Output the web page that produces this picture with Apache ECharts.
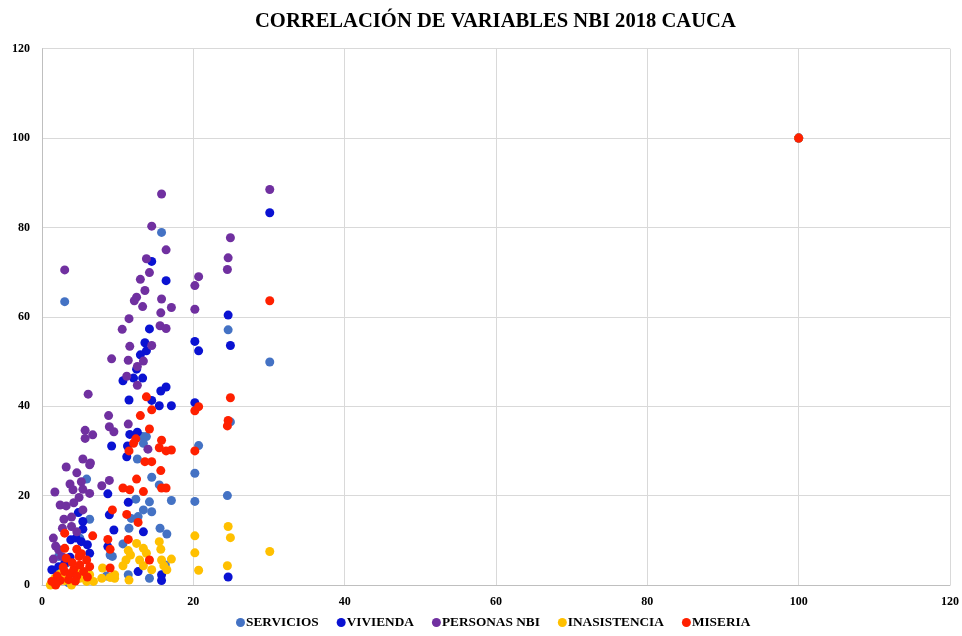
<!DOCTYPE html>
<html>
<head>
<meta charset="utf-8">
<script src="https://cdn.jsdelivr.net/npm/echarts@6/dist/echarts.min.js"></script>
<style>
html,body{margin:0;padding:0;background:#fff;}
#chart{width:962px;height:636px;}
</style>
</head>
<body>
<div id="chart"></div>
<script>
var titleText = 'CORRELACIÓN DE VARIABLES NBI 2018 CAUCA';
var seriesNames = ['SERVICIOS', 'VIVIENDA', 'PERSONAS NBI', 'INASISTENCIA', 'MISERIA'];
var seriesColors = ['#4472C4', '#0A12D2', '#7030A0', '#FFC000', '#FF2000'];
var axisTicks = [0, 20, 40, 60, 80, 100, 120];

var servicios = [
  [3.0,63.4],[15.8,78.9],[13.8,33.2],[13.3,33.2],[13.4,31.7],[12.6,28.2],[14.5,24.1],[15.5,22.4],
  [12.4,19.2],[14.2,18.6],[17.1,18.9],[13.4,16.8],[14.5,16.4],[12.7,15.3],[11.5,12.7],[15.6,12.7],
  [16.5,11.4],[10.7,9.2],[11.4,2.3],[14.2,1.5],[9.0,6.7],[5.9,23.7],[6.3,14.7],[2.2,6.4],[3.2,4.9],
  [2.6,3.4],[2.2,2.6],[1.5,1.0],[3.5,0.5],[4.5,1.2],[6.0,3.0],[8.5,2.0],[5.0,10.5],[16.3,4.5],
  [11.8,14.9],[9.3,6.4],
  [20.2,25.0],[20.2,18.7],[20.7,31.2],[24.6,57.1],[24.9,36.5],[24.5,20.0],[30.1,49.9],[100,100]
];
var vivienda = [
  [14.5,72.4],[16.4,68.1],[14.2,57.3],[13.6,54.2],[13.8,52.4],[13.0,51.5],[12.5,48.3],[12.1,46.3],
  [13.3,46.3],[10.7,45.7],[16.4,44.3],[15.7,43.4],[11.5,41.4],[14.5,41.3],[15.5,40.1],[17.1,40.1],
  [11.6,33.7],[12.6,34.2],[9.2,31.1],[11.3,31.1],[11.2,28.7],[11.4,18.5],[13.4,11.9],[9.5,12.3],
  [12.7,3.0],[15.8,2.3],[15.8,1.0],[8.7,20.4],[4.8,16.2],[5.4,14.2],[8.9,15.7],[5.4,12.5],
  [3.8,10.1],[4.5,10.5],[5.2,9.7],[6.0,9.0],[6.3,7.1],[8.7,8.6],[3.7,6.2],[3.0,4.9],[1.3,3.4],[2.2,4.1],
  [20.2,54.5],[20.2,40.8],[20.7,52.4],[24.6,60.4],[24.9,53.6],[24.6,1.8],[30.1,83.3],[100,100]
];
var personasNbi = [
  [15.8,87.5],[14.5,80.3],[16.4,75.0],[13.8,73.0],[3.0,70.5],[14.2,69.9],[13.0,68.4],[13.6,65.9],
  [12.5,64.4],[12.2,63.6],[15.8,64.0],[13.3,62.3],[17.1,62.1],[15.7,60.9],[11.5,59.6],[15.6,58.0],
  [16.4,57.4],[10.6,57.2],[11.6,53.4],[14.5,53.6],[9.2,50.6],[11.4,50.3],[13.4,50.1],[12.6,48.9],
  [11.2,46.7],[12.6,44.7],[6.1,42.7],[8.8,37.9],[11.4,36.0],[8.9,35.4],[5.7,34.6],[9.5,34.3],
  [6.7,33.6],[5.7,32.8],[14.0,30.4],[5.4,28.2],[6.4,27.3],[3.2,26.4],[4.6,25.1],[6.3,26.9],
  [3.7,22.6],[4.1,21.3],[5.2,23.1],[5.4,21.4],[7.9,22.2],[8.9,23.4],[1.7,20.8],[6.3,20.5],
  [2.4,17.9],[3.2,17.7],[4.2,18.4],[4.9,19.6],[5.4,16.8],[2.9,14.7],[3.9,15.2],[2.7,12.7],
  [3.9,13.1],[4.6,11.9],[1.5,10.5],[1.8,8.7],[2.2,7.9],[2.6,6.4],[1.5,5.8],
  [20.2,67.0],[20.2,61.7],[20.7,69.0],[24.9,77.7],[24.6,73.2],[24.5,70.6],[30.1,88.5],[100,100]
];
var inasistencia = [
  [12.5,9.3],[15.5,9.7],[15.7,8.0],[11.4,7.7],[11.7,6.7],[13.4,8.2],[13.8,7.1],[17.1,5.8],
  [11.1,5.6],[10.7,4.3],[12.9,5.6],[13.4,4.3],[15.8,5.6],[16.1,4.3],[16.5,3.4],[14.5,3.4],
  [11.5,1.1],[9.6,2.3],[8.0,3.8],[1.1,0.0],[1.7,1.5],[2.4,2.5],[5.0,1.5],[5.9,0.8],[6.3,2.3],
  [6.8,0.8],[7.9,1.5],[9.0,1.7],[9.6,1.5],[3.9,0.0],[3.0,1.0],[4.5,2.8],[2.0,0.5],
  [20.2,11.0],[20.2,7.2],[20.7,3.3],[24.6,13.1],[24.9,10.6],[24.5,4.3],[30.1,7.5],[100,100]
];
var miseria = [
  [13.8,42.1],[14.5,39.2],[13.0,37.9],[14.2,34.9],[12.4,32.7],[12.1,31.7],[15.8,32.4],[15.5,30.7],
  [16.4,30.0],[17.1,30.2],[11.5,30.0],[13.6,27.6],[14.5,27.6],[15.7,25.6],[12.5,23.7],[10.7,21.7],
  [11.6,21.3],[13.4,20.9],[15.8,21.7],[16.4,21.7],[9.3,16.8],[11.2,15.8],[12.7,14.0],[11.4,10.2],
  [14.2,5.6],[3.0,11.6],[6.7,11.0],[8.7,10.2],[3.0,8.2],[4.6,8.0],[5.2,7.0],[9.0,8.0],[4.9,6.4],
  [5.9,5.6],[6.3,4.1],[9.0,3.8],[3.0,3.0],[3.7,2.5],[4.2,3.5],[4.6,2.0],[3.5,1.2],[2.4,1.0],
  [1.8,0.0],[2.8,4.0],[5.5,3.0],[6.0,1.8],[4.0,5.0],[3.2,6.0],[2.0,2.0],[5.0,4.5],[1.3,0.8],[4.4,0.9],
  [20.2,39.0],[20.2,30.0],[20.7,39.9],[24.9,41.9],[24.6,36.8],[24.5,35.6],[30.1,63.6],[100,100]
];

var allData = [servicios, vivienda, personasNbi, inasistencia, miseria];
var fontFam = '"Liberation Serif", "Times New Roman", serif';

var chart = echarts.init(document.getElementById('chart'));
chart.setOption({
  animation: false,
  backgroundColor: '#ffffff',
  title: {
    text: titleText,
    left: 250,
    top: 6,
    textStyle: { fontFamily: fontFam, fontWeight: 'bold', fontSize: 20.6, color: '#000' }
  },
  legend: {
    bottom: 2,
    left: 231,
    data: seriesNames,
    icon: 'circle',
    itemWidth: 9,
    itemHeight: 9,
    itemGap: 18,
    textStyle: { fontFamily: fontFam, fontWeight: 'bold', fontSize: 13.3, color: '#000', padding: [0, 0, 0, -4] }
  },
  grid: { left: 42, right: 11, top: 48.7, bottom: 51, containLabel: false },
  xAxis: {
    type: 'value', min: axisTicks[0], max: axisTicks[axisTicks.length - 1], interval: 20,
    axisLine: { show: true, lineStyle: { color: '#bfbfbf' } },
    axisTick: { show: false },
    splitLine: { show: true, lineStyle: { color: '#d9d9d9', width: 1 } },
    axisLabel: { fontFamily: fontFam, fontWeight: 'bold', fontSize: 12, color: '#000', margin: 11 }
  },
  yAxis: {
    type: 'value', min: axisTicks[0], max: axisTicks[axisTicks.length - 1], interval: 20,
    axisLine: { show: true, lineStyle: { color: '#bfbfbf' } },
    axisTick: { show: false },
    splitLine: { show: true, lineStyle: { color: '#d9d9d9', width: 1 } },
    axisLabel: { fontFamily: fontFam, fontWeight: 'bold', fontSize: 12, color: '#000', margin: 12 }
  },
  series: seriesNames.map(function (name, i) {
    return {
      name: name,
      type: 'scatter',
      symbol: 'circle',
      symbolSize: 9,
      data: allData[i],
      itemStyle: { color: seriesColors[i], opacity: 1 }
    };
  })
});
</script>
</body>
</html>
